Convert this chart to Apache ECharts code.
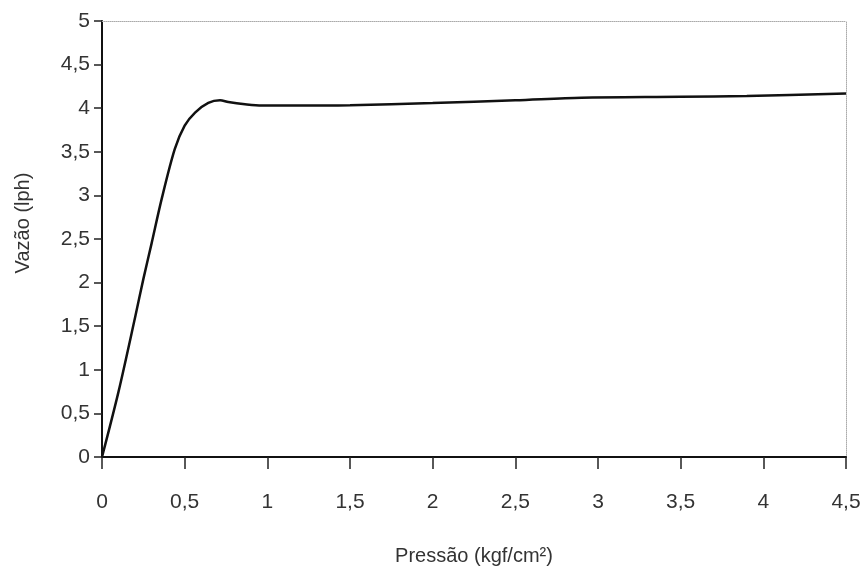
<!DOCTYPE html>
<html>
<head>
<meta charset="utf-8">
<script src="https://cdn.jsdelivr.net/npm/echarts@6/dist/echarts.min.js"></script>
<style>html,body{margin:0;padding:0;background:#fff}#c{width:866px;height:571px}</style>
</head>
<body>
<div id="c"></div>
<script>
// Data
const pressao = [0, 0.1, 0.2, 0.25, 0.3, 0.361, 0.44, 0.5, 0.563, 0.643, 0.714, 0.764, 0.865, 0.966, 1.17, 1.5, 2.0, 2.5, 2.9, 3.5, 3.9, 4.5];
const vazao   = [0, 0.75, 1.6, 2.04, 2.45, 2.96, 3.53, 3.80, 3.95, 4.06, 4.09, 4.07, 4.045, 4.03, 4.03, 4.035, 4.06, 4.09, 4.12, 4.13, 4.14, 4.17];
const xTitle = 'Pressão (kgf/cm²)';
const yTitle = 'Vazão (lph)';

const fmt = v => String(v).replace('.', ',');
const font = 'Liberation Sans, Arial, sans-serif';

const chart = echarts.init(document.getElementById('c'));
chart.setOption({
  animation: false,
  backgroundColor: '#ffffff',
  grid: { left: 102, right: 20, top: 21, bottom: 112 },
  xAxis: [{
    type: 'value', min: 0, max: 4.5, interval: 0.5,
    name: xTitle, nameLocation: 'middle', nameGap: 89,
    nameTextStyle: { fontFamily: font, fontSize: 20, color: '#333' },
    axisLine: { show: true, onZero: false, lineStyle: { color: '#111', width: 2 } },
    axisTick: { show: true, length: 12, lineStyle: { color: '#222', width: 1.5 } },
    axisLabel: { margin: 35, fontFamily: font, fontSize: 21, color: '#333', formatter: fmt },
    splitLine: { show: false }
  }, {
    type: 'value', position: 'top', min: 0, max: 4.5,
    axisLine: { show: true, onZero: false, lineStyle: { color: '#aaa', width: 1, type: 'dotted' } },
    axisTick: { show: false }, axisLabel: { show: false }, splitLine: { show: false }
  }],
  yAxis: [{
    type: 'value', min: 0, max: 5, interval: 0.5,
    name: yTitle, nameLocation: 'middle', nameGap: 69,
    nameTextStyle: { fontFamily: font, fontSize: 20, color: '#333', padding: [0, 0, 0, 32] },
    axisLine: { show: true, onZero: false, lineStyle: { color: '#111', width: 2 } },
    axisTick: { show: true, length: 8, lineStyle: { color: '#222', width: 1.5 } },
    axisLabel: { margin: 12, fontFamily: font, fontSize: 21, color: '#333', formatter: fmt },
    splitLine: { show: false }
  }, {
    type: 'value', position: 'right', min: 0, max: 5,
    axisLine: { show: true, onZero: false, lineStyle: { color: '#aaa', width: 1, type: 'dotted' } },
    axisTick: { show: false }, axisLabel: { show: false }, splitLine: { show: false }
  }],
  series: [{
    type: 'line',
    data: pressao.map((x, i) => [x, vazao[i]]),
    smooth: 0.3,
    showSymbol: false,
    lineStyle: { color: '#111', width: 2.5 }
  }]
});
</script>
</body>
</html>
